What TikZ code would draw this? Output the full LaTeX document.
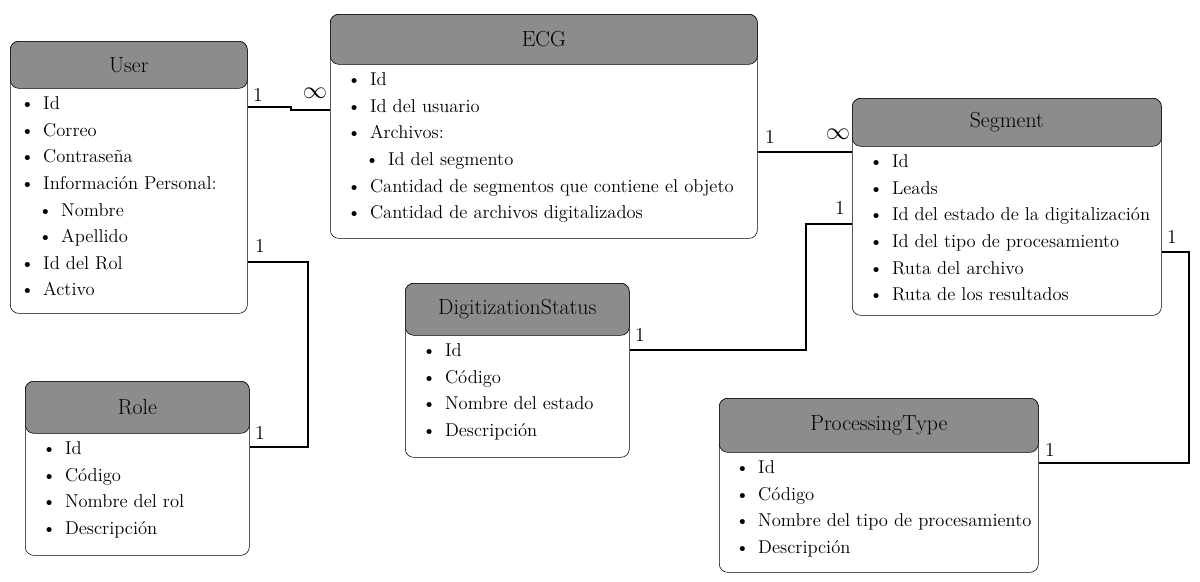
\documentclass[tikz,border=0pt]{standalone}
\usepackage{tikz}
\usetikzlibrary{positioning,calc}
\tikzstyle{box}=[draw,rounded corners=6pt,fill=white,inner sep=0pt,anchor=north west]
\tikzstyle{head}=[draw,rounded corners=6pt,fill=black!45,inner sep=0pt,anchor=north west,font=\fontsize{15.5}{18}\selectfont]
\tikzstyle{items}=[anchor=north west,inner sep=0pt,align=left,font=\fontsize{13.2}{18.9}\selectfont]
\tikzstyle{link}=[draw,line width=1.5pt]
\tikzstyle{mult}=[font=\fontsize{14}{16}\selectfont]
\newcommand{\itm}[1]{\textbullet\hspace{0.22cm}#1}
\newcommand{\subitm}[1]{\hspace{0.45cm}\textbullet\hspace{0.22cm}#1}
\begin{document}
\begin{tikzpicture}[x=0.025cm,y=-0.025cm]
\useasboundingbox (0,0) rectangle (1200,581);

% entities
\node[box,minimum width=5.925cm,minimum height=6.8cm] (user) at (10,41) {};
\node[head,minimum width=5.925cm,minimum height=1.175cm] (userh) at (10,41) {User};
\node[items] (userl) at ([xshift=0.25cm,yshift=-0.2cm]userh.south west)
 {\itm{Id}\\ \itm{Correo}\\ \itm{Contraseña}\\ \itm{Información Personal:}\\
  \subitm{Nombre}\\ \subitm{Apellido}\\ \itm{Id del Rol}\\ \itm{Activo}};

\node[box,minimum width=10.675cm,minimum height=5.6cm] (ecg) at (330,14) {};
\node[head,minimum width=10.675cm,minimum height=1.25cm] (ecgh) at (330,14) {ECG};
\node[items] (ecgl) at ([xshift=0.42cm,yshift=-0.2cm]ecgh.south west)
 {\itm{Id}\\ \itm{Id del usuario}\\ \itm{Archivos:}\\ \subitm{Id del segmento}\\
  \itm{Cantidad de segmentos que contiene el objeto}\\ \itm{Cantidad de archivos digitalizados}};

\node[box,minimum width=7.725cm,minimum height=5.425cm] (seg) at (852,98) {};
\node[head,minimum width=7.725cm,minimum height=1.2cm] (segh) at (852,98) {Segment};
\node[items] (segl) at ([xshift=0.42cm,yshift=-0.2cm]segh.south west)
 {\itm{Id}\\ \itm{Leads}\\ \itm{Id del estado de la digitalización}\\ \itm{Id del tipo de procesamiento}\\
  \itm{Ruta del archivo}\\ \itm{Ruta de los resultados}};

\node[box,minimum width=5.6cm,minimum height=4.35cm] (digit) at (405,283) {};
\node[head,minimum width=5.6cm,minimum height=1.3cm] (digith) at (405,283) {DigitizationStatus};
\node[items] (digitl) at ([xshift=0.42cm,yshift=-0.2cm]digith.south west)
 {\itm{Id}\\ \itm{Código}\\ \itm{Nombre del estado}\\ \itm{Descripción}};

\node[box,minimum width=5.6cm,minimum height=4.35cm] (role) at (25,381) {};
\node[head,minimum width=5.6cm,minimum height=1.3cm] (roleh) at (25,381) {Role};
\node[items] (rolel) at ([xshift=0.42cm,yshift=-0.2cm]roleh.south west)
 {\itm{Id}\\ \itm{Código}\\ \itm{Nombre del rol}\\ \itm{Descripción}};

\node[box,minimum width=7.975cm,minimum height=4.35cm] (proc) at (719,398) {};
\node[head,minimum width=7.975cm,minimum height=1.35cm] (proch) at (719,398) {ProcessingType};
\node[items] (procl) at ([xshift=0.4cm,yshift=-0.2cm]proch.south west)
 {\itm{Id}\\ \itm{Código}\\ \itm{Nombre del tipo de procesamiento}\\ \itm{Descripción}};

% relations
\draw[link] ([yshift=-1.65cm]user.north east) -- ++(43,0) |- ([yshift=-2.4cm]ecg.north west);
\node[mult] at (258,95) {1};
\node[mult,font=\LARGE] at (315,93) {$\infty$};

\draw[link] ([yshift=-3.45cm]ecg.north east) -- ++(48,0) |- ([yshift=-1.35cm]seg.north west);
\node[mult] at (770,137) {1};
\node[mult,font=\LARGE] at (838,134) {$\infty$};

\draw[link] ([yshift=-5.525cm]user.north east) -- ++(60,0) |- ([yshift=-1.65cm]role.north east);
\node[mult] at (260,246) {1};
\node[mult] at (260,433) {1};

\draw[link] ([yshift=-1.675cm]digit.north east) -- ++(176,0) |- ([yshift=-3.15cm]seg.north west);
\node[mult] at (640,335) {1};
\node[mult] at (840,208) {1};

\draw[link] ([yshift=-3.85cm]seg.north east) -- ++(27,0) |- ([yshift=-1.625cm]proc.north east);
\node[mult] at (1172,237) {1};
\node[mult] at (1050,450) {1};
\end{tikzpicture}
\end{document}
